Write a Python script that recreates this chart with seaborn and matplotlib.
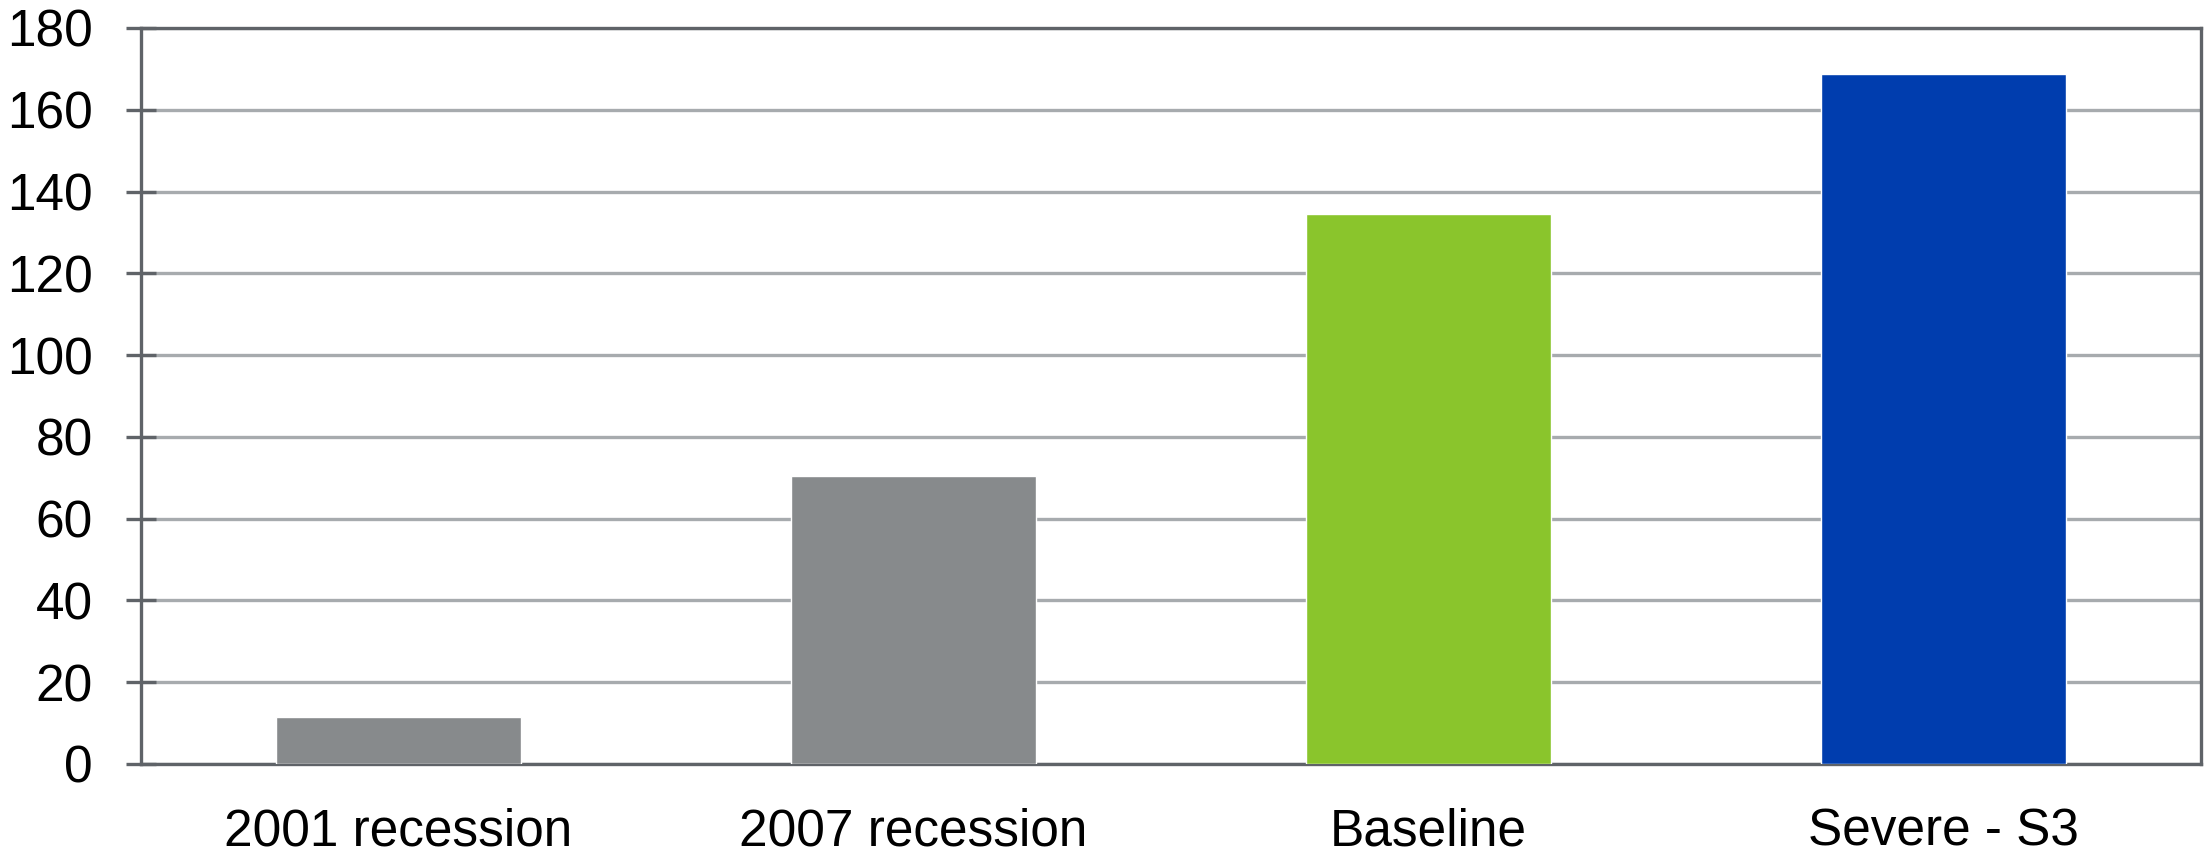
import matplotlib
matplotlib.use("Agg")
import matplotlib.pyplot as plt
import seaborn as sns
import pandas as pd

# Chart data
categories = ["2001 recession", "2007 recession", "Baseline", "Severe - S3"]
values = [11.5, 70.4, 134.5, 168.7]
bar_colors = ["#878A8C", "#878A8C", "#8AC52C", "#003DAE"]
y_ticks = [0, 20, 40, 60, 80, 100, 120, 140, 160, 180]

sns.set_theme(style="white")
plt.rcParams["font.family"] = ["Liberation Sans", "DejaVu Sans"]

df = pd.DataFrame({"scenario": categories, "value": values})

fig = plt.figure(figsize=(22.04, 8.58), dpi=100)
ax = fig.add_axes([0.064, 0.1096, 0.9346, 0.8578])

sns.barplot(data=df, x="scenario", y="value", hue="scenario",
            palette=bar_colors, width=0.476, legend=False,
            saturation=1, ax=ax, zorder=3)

ax.set_ylim(0, 180)
ax.set_yticks(y_ticks)
ax.set_yticklabels([str(t) for t in y_ticks])
ax.set_xlim(-0.5, len(categories) - 0.5)
ax.set_xlabel("")
ax.set_ylabel("")

spine_color = "#5F6368"
ax.yaxis.grid(True, color="#A7ABAE", linewidth=2.4, zorder=0)
ax.set_axisbelow(True)
for side in ["left", "right", "top", "bottom"]:
    ax.spines[side].set_visible(True)
    ax.spines[side].set_color(spine_color)
    ax.spines[side].set_linewidth(2.4)

ax.tick_params(axis="y", direction="inout", length=21.6, width=2.4,
               color=spine_color, labelsize=37, labelcolor="black", pad=24,
               left=True)
ax.tick_params(axis="x", length=0, labelsize=37, labelcolor="black", pad=31)

fig.savefig("out.png", dpi=100, facecolor="white")
